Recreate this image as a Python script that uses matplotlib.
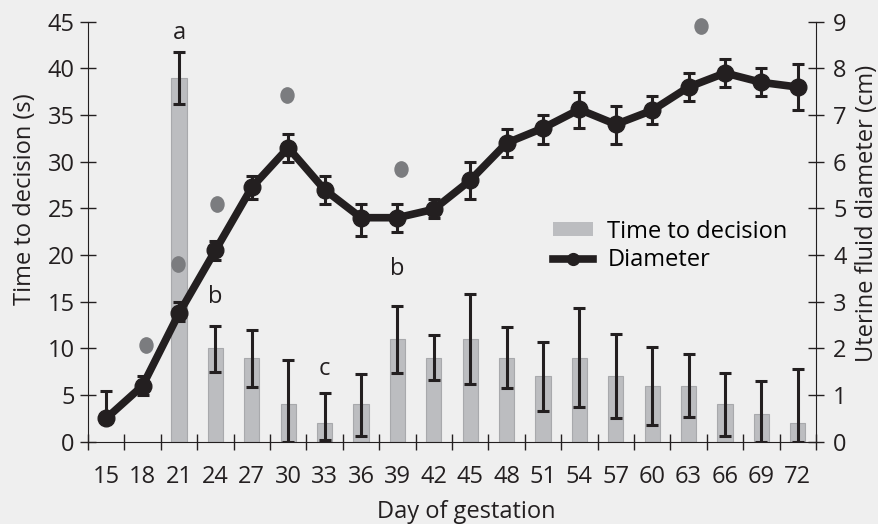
import numpy as np
import matplotlib.pyplot as plt
from matplotlib.markers import MarkerStyle
from matplotlib.transforms import Affine2D
from matplotlib.patches import Patch
from matplotlib.lines import Line2D

plt.rcParams['font.family'] = ['Open Sans', 'DejaVu Sans']

nan = np.nan
days = [15, 18, 21, 24, 27, 30, 33, 36, 39, 42, 45, 48, 51, 54, 57, 60, 63, 66, 69, 72]

# time to decision (s), left axis
decision_time = [nan, nan, 39, 10, 9, 4, 2, 4, 11, 9, 11, 9, 7, 9, 7, 6, 6, 4, 3, 2]
decision_low = [nan, nan, 36.2, 7.5, 5.9, 0, 0.2, 0.6, 7.4, 6.6, 6.2, 5.8, 3.3, 3.7, 2.5, 1.8, 2.6, 0.6, 0, 0]
decision_high = [nan, nan, 41.8, 12.4, 12.0, 8.75, 5.2, 7.3, 14.5, 11.4, 15.8, 12.3, 10.7, 14.3, 11.5, 10.2, 9.4, 7.4, 6.5, 7.8]

# uterine fluid diameter (cm), right axis
diameter = [0.5, 1.2, 2.75, 4.1, 5.45, 6.3, 5.4, 4.8, 4.8, 4.98, 5.6, 6.4, 6.72, 7.12, 6.8, 7.1, 7.6, 7.9, 7.7, 7.6]
diameter_low = [0.5, 1.0, 2.58, 3.9, 5.2, 6.0, 5.1, 4.4, 4.5, 4.79, 5.19, 6.1, 6.39, 6.72, 6.39, 6.8, 7.3, 7.6, 7.4, 7.1]
diameter_high = [1.09, 1.4, 3.0, 4.3, 5.7, 6.6, 5.7, 5.1, 5.1, 5.2, 6.0, 6.7, 7.0, 7.5, 7.2, 7.4, 7.9, 8.2, 8.0, 8.1]

# grey points (left axis)
point_days = [18.3, 20.9, 24.1, 29.9, 39.3, 64.0]
point_vals = [10.4, 19.0, 25.5, 37.1, 29.2, 44.5]

# significance letters
sig_labels = ['a', 'b', 'c', 'b']
sig_days = [21, 24, 33, 39]
sig_y = [43.8, 15.5, 7.8, 18.5]

bg = '#efefef'
ink = '#231f20'
fs = 17
W, H = 879, 524

x = np.arange(len(days))
def day_pos(d):
    return (np.asarray(d, dtype=float) - days[0]) / 3.0

fig = plt.figure(figsize=(W / 100, H / 100), dpi=100, facecolor=bg)
ax = fig.add_axes([88 / W, 1 - 441.7 / H, 728 / W, 420 / H])
ax.set_facecolor(bg)
ax2 = ax.twinx()

dt = np.array(decision_time)
yerr_t = [dt - np.array(decision_low), np.array(decision_high) - dt]
ax.bar(x, dt, width=0.42, color='#bcbdc0', edgecolor='#a8a9ac', linewidth=0.8, zorder=2)
ax.errorbar(x, dt, yerr=yerr_t, fmt='none', ecolor=ink, elinewidth=2.2,
            capsize=4.5, capthick=2.2, zorder=3)

ell = MarkerStyle('o', transform=Affine2D().scale(0.85, 1.0))
ax.plot(day_pos(point_days), point_vals, linestyle='none', marker=ell,
        markersize=11, color='#7b7c7f', zorder=4, clip_on=False)

for lab, d, yv in zip(sig_labels, sig_days, sig_y):
    ax.text(day_pos(d), yv, lab, ha='center', va='center', fontsize=fs, color=ink)

dm = np.array(diameter)
yerr_d = [dm - np.array(diameter_low), np.array(diameter_high) - dm]
ax2.errorbar(x, dm, yerr=yerr_d, fmt='none', ecolor=ink, elinewidth=2.2,
             capsize=4.5, capthick=2.2, zorder=3)
ax2.plot(x, dm, color=ink, linewidth=5.5, marker='o', markersize=12, zorder=4)

ax.set_xlim(-0.5, len(days) - 0.5)
ax.set_ylim(0, 45)
ax2.set_ylim(0, 9)
ax.set_yticks(np.arange(0, 46, 5))
ax2.set_yticks(np.arange(0, 10, 1))
ax.set_xticks(x)
ax.set_xticklabels([str(d) for d in days])
ax.set_xticks(np.arange(-0.5, len(days), 1.0), minor=True)

for s in ['top', 'right']:
    ax.spines[s].set_visible(False)
for s in ['top', 'left', 'bottom']:
    ax2.spines[s].set_visible(False)
ax.spines['left'].set_color(ink)
ax.spines['bottom'].set_color(ink)
ax2.spines['right'].set_color(ink)

ax.tick_params(axis='x', which='major', length=0, pad=16.5, labelsize=fs, labelcolor=ink)
ax.tick_params(axis='x', which='minor', direction='inout', length=11, width=1, color=ink)
ax.tick_params(axis='y', direction='inout', length=11, width=1, color=ink,
               pad=4, labelsize=fs, labelcolor=ink)
ax2.tick_params(axis='y', direction='inout', length=11, width=1, color=ink,
                pad=6.8, labelsize=fs, labelcolor=ink)

fig.text(466 / W, 1 - 512 / H, 'Day of gestation', ha='center', va='center',
         fontsize=fs, color=ink)
fig.text(25 / W, 1 - 199.5 / H, 'Time to decision (s)', ha='center', va='center',
         rotation=90, fontsize=fs, color=ink)
fig.text(867 / W, 1 - 213 / H, 'Uterine fluid diameter (cm)', ha='center', va='center',
         rotation=90, fontsize=fs, color=ink)

handles = [Patch(facecolor='#bcbdc0', edgecolor='none'),
           Line2D([], [], color=ink, linewidth=5.5, marker='o', markersize=8.5)]
ax2.legend(handles, ['Time to decision', 'Diameter'], loc='upper left',
           bbox_to_anchor=(0.639, 0.529), frameon=False, fontsize=fs,
           handlelength=1.7, handleheight=0.5, handletextpad=0.6,
           labelspacing=0.2, borderpad=0, borderaxespad=0)

fig.savefig('out.png', dpi=100, facecolor=bg)
